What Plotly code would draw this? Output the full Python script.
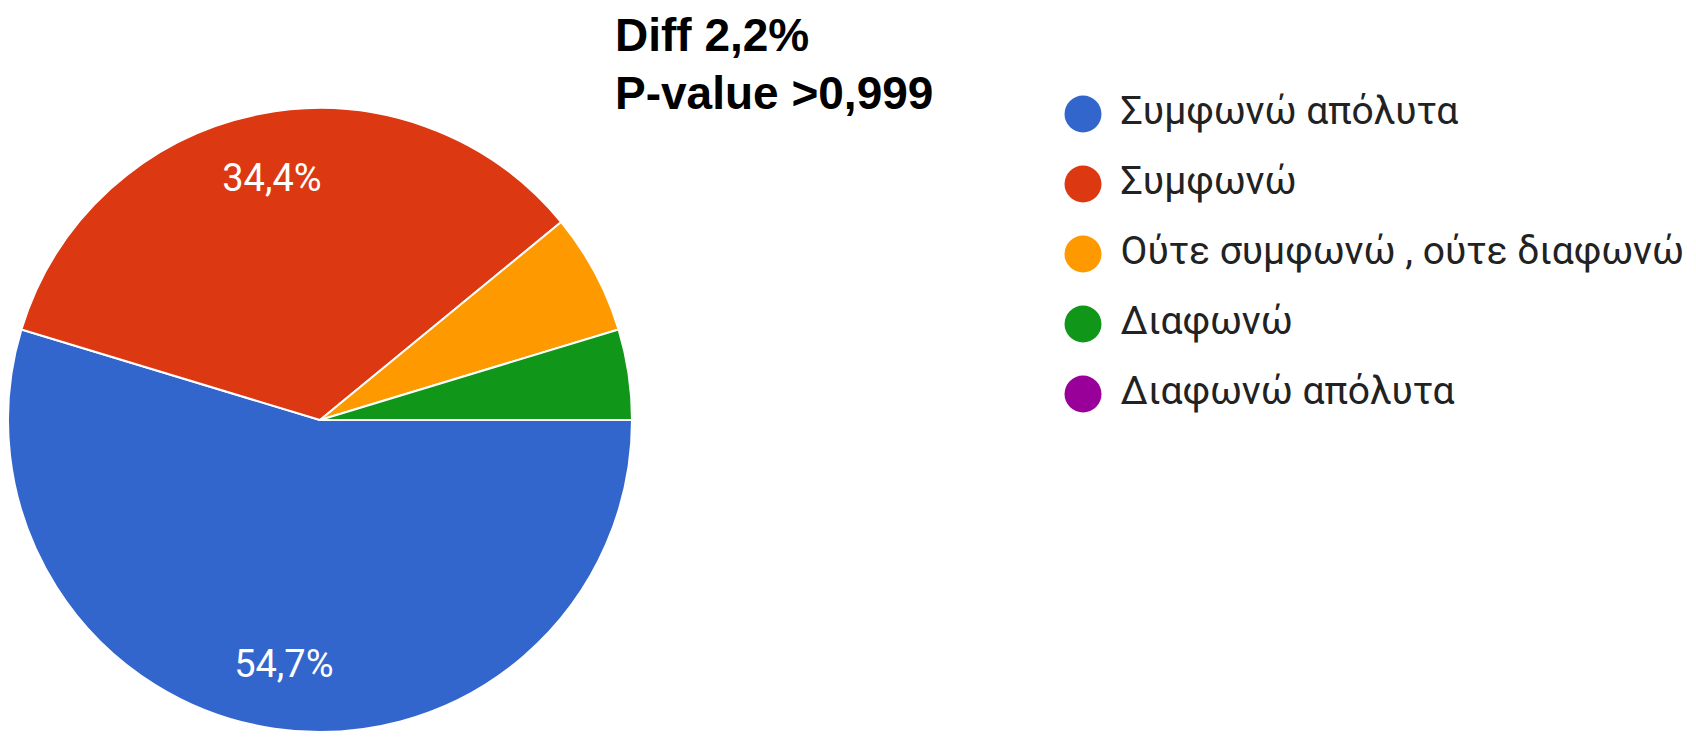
import plotly.graph_objects as go

# Data
labels = ["Συμφωνώ απόλυτα", "Συμφωνώ", "Ούτε συμφωνώ , ούτε διαφωνώ", "Διαφωνώ", "Διαφωνώ απόλυτα"]
counts = [35, 22, 4, 3, 0]
colors = ["#3366CC", "#DC3912", "#FF9900", "#109618", "#990099"]
show_pct = [True, True, False, False, False]
note_lines = ["Diff 2,2%", "P-value >0,999"]

W, H = 1696, 751
cx, cy, r = 312, 412, 312
pie_domain = dict(x=[max(0, (cx - r) / W), (cx + r) / W], y=[(H - cy - r) / H, (H - cy + r) / H])

fig = go.Figure()

# Pie slices
fig.add_trace(go.Pie(
    labels=labels,
    values=counts,
    marker=dict(colors=colors, line=dict(color="white", width=2)),
    sort=False,
    direction="clockwise",
    rotation=90,
    textinfo="none",
    hoverinfo="label+percent",
    showlegend=False,
    domain=pie_domain,
))

# Percentage labels placed in the outer ring (transparent donut overlay)
fig.add_trace(go.Pie(
    labels=labels,
    values=counts,
    hole=0.58,
    marker=dict(colors=["rgba(0,0,0,0)"] * len(labels), line=dict(width=0)),
    sort=False,
    direction="clockwise",
    rotation=90,
    texttemplate=["%{percent:.1%}" if s else "" for s in show_pct],
    textposition="inside",
    insidetextorientation="horizontal",
    textfont=dict(family="Roboto, Arial, sans-serif", size=38, color="white"),
    hoverinfo="skip",
    showlegend=False,
    domain=pie_domain,
))

idx = list(range(len(labels)))
# Custom legend: markers + labels
fig.add_trace(go.Scatter(
    x=[0] * len(labels), y=idx, mode="markers",
    marker=dict(size=37, color=colors),
    cliponaxis=False, showlegend=False, hoverinfo="skip",
))
fig.add_trace(go.Scatter(
    x=[0.0605] * len(labels), y=idx, mode="text", text=labels,
    textposition="middle right",
    textfont=dict(family="Roboto, Arial, sans-serif", size=39, color="#222222"),
    cliponaxis=False, showlegend=False, hoverinfo="skip",
))

fig.update_layout(
    width=W, height=H,
    margin=dict(l=0, r=0, t=0, b=0),
    paper_bgcolor="white", plot_bgcolor="white",
    separators=",.",
    xaxis=dict(domain=[1075 / W, 1], range=[0, 1], visible=False, fixedrange=True),
    yaxis=dict(domain=[1 - 421 / H, 1 - 71 / H], range=[4.5, -0.5], visible=False, fixedrange=True),
    annotations=[
        dict(text=note_lines[0], x=605 / W, y=1 - 27 / H),
        dict(text=note_lines[1], x=605 / W, y=1 - 85 / H),
    ],
)
fig.update_annotations(
    xref="paper", yref="paper", xanchor="left", yanchor="middle", align="left",
    showarrow=False,
    font=dict(family="Liberation Sans, Arial, sans-serif", size=46, color="black", weight="bold"),
)

fig.write_html("out.html")
